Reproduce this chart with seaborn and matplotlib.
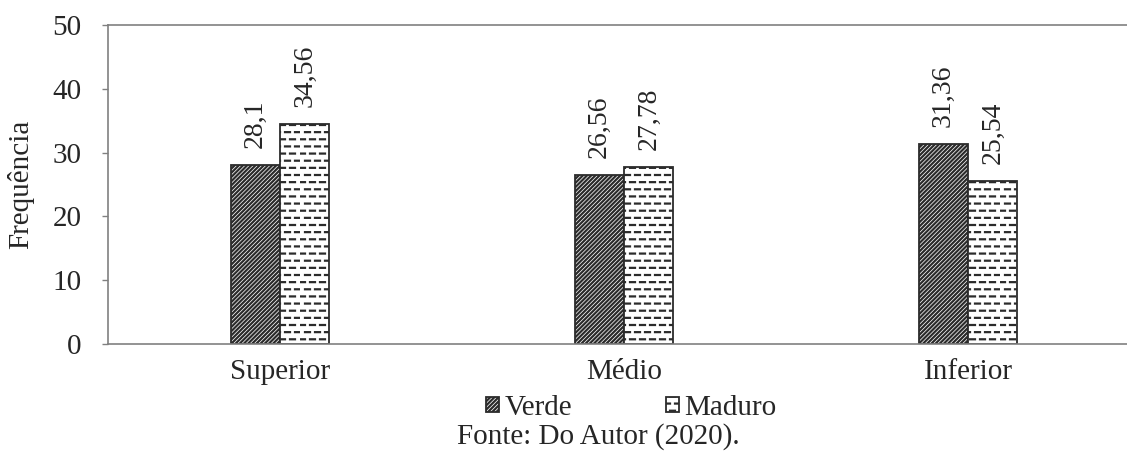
import numpy as np
import pandas as pd
import matplotlib
matplotlib.use("Agg")
import matplotlib.pyplot as plt
import matplotlib.hatch as mhatch
from matplotlib.path import Path
import seaborn as sns

# Data
posicoes = ["Superior", "Médio", "Inferior"]
estadios = ["Verde", "Maduro"]
verde = [28.1, 26.56, 31.36]
maduro = [34.56, 27.78, 25.54]


class DashedRows(mhatch.HatchPatternBase):
    """Horizontal hatch drawn as staggered dashes instead of solid lines."""

    def __init__(self, hatch, density):
        self.num_rows = hatch.count("-") * 7
        self.num_dashes = 10
        self.num_vertices = self.num_rows * self.num_dashes * 2

    def set_vertices_and_codes(self, vertices, codes):
        period = 1.0 / self.num_dashes
        k = 0
        for r in range(self.num_rows):
            y = (r + 0.5) / self.num_rows
            shift = 0.5 * period * (r % 2)
            for d in range(self.num_dashes):
                x0 = d * period + shift
                vertices[k] = (x0, y)
                vertices[k + 1] = (x0 + 0.5 * period, y)
                codes[k] = Path.MOVETO
                codes[k + 1] = Path.LINETO
                k += 2


mhatch._hatch_types = [DashedRows if t is mhatch.HorizontalHatch else t
                       for t in mhatch._hatch_types]

sns.set_style("ticks")
plt.rcParams["font.family"] = ["Liberation Serif", "DejaVu Serif"]
plt.rcParams["hatch.linewidth"] = 1.6

df = pd.DataFrame({
    "Posição": posicoes * 2,
    "Estádio": [estadios[0]] * 3 + [estadios[1]] * 3,
    "Frequência": verde + maduro,
})

W, H = 1127, 457
fig = plt.figure(figsize=(W / 100, H / 100), dpi=100)
ax = fig.add_axes([108 / W, 1 - 344 / H, 1032 / W, 319 / H])

sns.barplot(data=df, x="Posição", y="Frequência", hue="Estádio",
            order=posicoes, hue_order=estadios,
            palette=["white", "white"], width=0.287, gap=0,
            edgecolor="#2b2b2b", linewidth=1.3, legend=False, ax=ax)

hatches = {"Verde": "/" * 8, "Maduro": "--"}
for cont, est in zip(ax.containers, estadios):
    for bar in cont:
        bar.set_hatch(hatches[est])
        bar.set_edgecolor("#2b2b2b")
    vals = verde if est == "Verde" else maduro
    ax.bar_label(cont, labels=[f"{v:g}".replace(".", ",") for v in vals],
                 rotation=90, padding=12, fontsize=20)

ax.set_xlim(-0.5, 2.5)
ax.set_ylim(0, 50)
ax.set_yticks(np.arange(0, 51, 10))
ax.set_xlabel("")
ax.set_ylabel("Frequência", fontsize=21)
ax.yaxis.set_label_coords(-0.0717, 0.5)

for side in ["left", "bottom", "top"]:
    ax.spines[side].set_color("#808080")
    ax.spines[side].set_linewidth(1.2)
ax.spines["right"].set_visible(False)

ax.tick_params(axis="y", length=4.5, width=1, color="#808080",
               pad=14.5, labelsize=21)
ax.tick_params(axis="x", length=0, pad=11, labelsize=21)

leg = ax.legend(handles=[c[0] for c in ax.containers], labels=estadios,
                loc="center", bbox_to_anchor=(0.507, -0.2), ncol=2,
                frameon=False, fontsize=21, handlelength=0.45,
                handleheight=0.45, handletextpad=0.2, columnspacing=3.2,
                borderaxespad=0)

fig.text(598 / W, 1 - 437 / H, "Fonte: Do Autor (2020).", fontsize=21,
         ha="center", va="center")

fig.savefig("out.png", dpi=100)
